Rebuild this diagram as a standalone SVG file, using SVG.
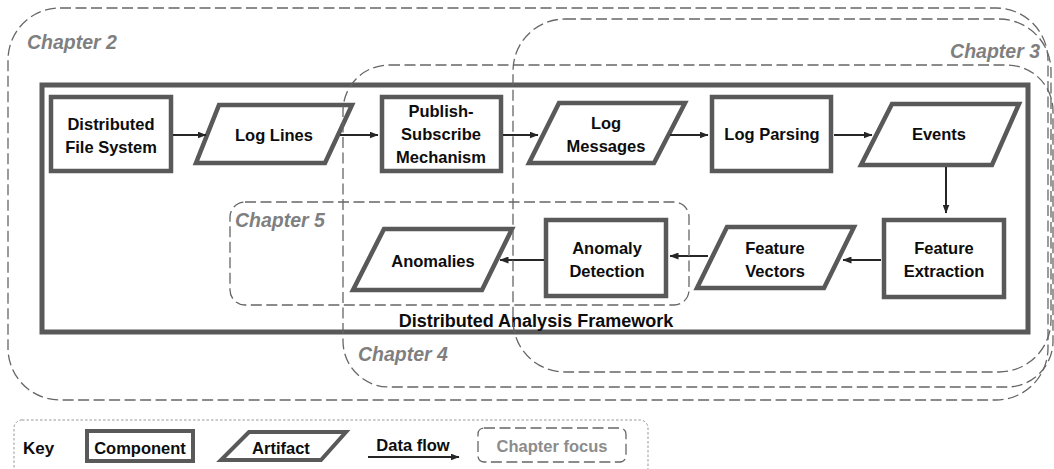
<svg xmlns="http://www.w3.org/2000/svg" width="1054" height="469" viewBox="0 0 1054 469">
  <style>
    .comp { fill: #ffffff; stroke: #595959; stroke-width: 4.5; }
    .art { fill: #ffffff; stroke: #595959; stroke-width: 4.5; stroke-linejoin: miter; }
    .frame { fill: none; stroke: #595959; stroke-width: 5; }
    .lbl { font-family: "Liberation Sans", Arial, sans-serif; font-weight: bold; font-size: 16.5px; fill: #0d0d0d; text-anchor: middle; }
    .flbl { font-family: "Liberation Sans", Arial, sans-serif; font-weight: bold; font-size: 18px; fill: #0d0d0d; text-anchor: middle; }
    .chap { fill: none; stroke: #666666; stroke-width: 1.3; stroke-dasharray: 11 4.5; }
    .chtxt { font-family: "Liberation Sans", Arial, sans-serif; font-weight: bold; font-style: italic; font-size: 19.5px; fill: #7f7f7f; }
    .flow { fill: none; stroke: #262626; stroke-width: 2; marker-end: url(#arrow); }
    .keybox { fill: none; stroke: #8c8c8c; stroke-width: 0.9; stroke-dasharray: 2.5 2; }
  </style>
  <defs>
    <marker id="arrow" markerUnits="userSpaceOnUse" markerWidth="9" markerHeight="7" refX="8.5" refY="3.5" orient="auto">
      <path d="M0,0 L9,3.5 L0,7 z" fill="#262626"/>
    </marker>
  </defs>

  <rect width="1054" height="469" fill="#ffffff"/>

  <!-- framework container -->
  <g id="framework">
    <rect class="frame" x="42" y="85" width="986" height="247"/>
    <text class="flbl" x="536" y="327">Distributed Analysis Framework</text>
  </g>

  <!-- components -->
  <g id="dfs">
    <rect class="comp" x="51" y="97" width="120" height="74"/>
    <text class="lbl" x="111" y="129.5">Distributed</text>
    <text class="lbl" x="111" y="153">File System</text>
  </g>
  <g id="loglines">
    <polygon class="art" points="219,105 352,105 325,163 196,163"/>
    <text class="lbl" x="274" y="141">Log Lines</text>
  </g>
  <g id="pubsub">
    <rect class="comp" x="382" y="97" width="119" height="74"/>
    <text class="lbl" x="441" y="117">Publish-</text>
    <text class="lbl" x="441" y="140">Subscribe</text>
    <text class="lbl" x="441" y="162.5">Mechanism</text>
  </g>
  <g id="logmessages">
    <polygon class="art" points="559,103 685,103 654,163 529,163"/>
    <text class="lbl" x="606" y="128.5">Log</text>
    <text class="lbl" x="606" y="151.5">Messages</text>
  </g>
  <g id="logparsing">
    <rect class="comp" x="712" y="97" width="119" height="74"/>
    <text class="lbl" x="772" y="140">Log Parsing</text>
  </g>
  <g id="events">
    <polygon class="art" points="892,104 1019,104 992,165 861,165"/>
    <text class="lbl" x="939" y="140">Events</text>
  </g>
  <g id="featureextraction">
    <rect class="comp" x="884" y="220" width="120" height="77"/>
    <text class="lbl" x="944" y="254">Feature</text>
    <text class="lbl" x="944" y="277">Extraction</text>
  </g>
  <g id="featurevectors">
    <polygon class="art" points="727,227 854,227 824,288 697,288"/>
    <text class="lbl" x="775" y="254">Feature</text>
    <text class="lbl" x="775" y="277">Vectors</text>
  </g>
  <g id="anomalydetection">
    <rect class="comp" x="546" y="220" width="120" height="76"/>
    <text class="lbl" x="607" y="254">Anomaly</text>
    <text class="lbl" x="607" y="277">Detection</text>
  </g>
  <g id="anomalies">
    <polygon class="art" points="384,229 512,229 482,290 353,290"/>
    <text class="lbl" x="433" y="267">Anomalies</text>
  </g>

  <!-- data flow -->
  <g id="connectors">
    <line class="flow" x1="173" y1="135" x2="206" y2="135"/>
    <line class="flow" x1="340" y1="135" x2="378" y2="135"/>
    <line class="flow" x1="503" y1="135" x2="538" y2="135"/>
    <line class="flow" x1="670" y1="135" x2="708" y2="135"/>
    <line class="flow" x1="834" y1="135" x2="872" y2="135"/>
    <line class="flow" x1="946" y1="167" x2="946" y2="213"/>
    <line class="flow" x1="881" y1="260" x2="843" y2="260"/>
    <line class="flow" x1="708" y1="256" x2="670" y2="256"/>
    <line class="flow" x1="544" y1="260" x2="500" y2="260"/>
  </g>

  <!-- chapter focus regions -->
  <g id="chapter2">
    <rect class="chap" x="8" y="8" width="1040" height="392" rx="52" ry="52"/>
    <text class="chtxt" x="27" y="49">Chapter 2</text>
  </g>
  <g id="chapter3">
    <rect class="chap" x="513" y="19" width="538" height="353" rx="52" ry="52"/>
    <text class="chtxt" x="1040" y="58" text-anchor="end">Chapter 3</text>
  </g>
  <g id="chapter4">
    <rect class="chap" x="343" y="65" width="710" height="322" rx="46" ry="46"/>
    <text class="chtxt" x="358" y="361">Chapter 4</text>
  </g>
  <g id="chapter5">
    <rect class="chap" x="230" y="202" width="459" height="103" rx="15" ry="15"/>
    <text class="chtxt" x="235" y="227">Chapter 5</text>
  </g>

  <!-- key -->
  <g id="key">
    <rect class="keybox" x="14" y="420" width="634" height="56" rx="8" ry="8"/>
    <text class="lbl" x="23" y="454" style="text-anchor:start;font-size:17px">Key</text>
    <rect class="comp" x="87" y="431" width="106" height="30" style="stroke-width:4"/>
    <text class="lbl" x="140" y="454">Component</text>
    <polygon class="art" points="249,432 346,432 321,460 221,460" style="stroke-width:4"/>
    <text class="lbl" x="281" y="454">Artifact</text>
    <text class="lbl" x="413" y="451">Data flow</text>
    <line class="flow" x1="368" y1="457" x2="459" y2="457"/>
    <rect class="chap" x="478" y="428" width="148" height="34" rx="6" ry="6"/>
    <text class="lbl" x="552" y="452" style="fill:#8c8c8c">Chapter focus</text>
  </g>
</svg>
